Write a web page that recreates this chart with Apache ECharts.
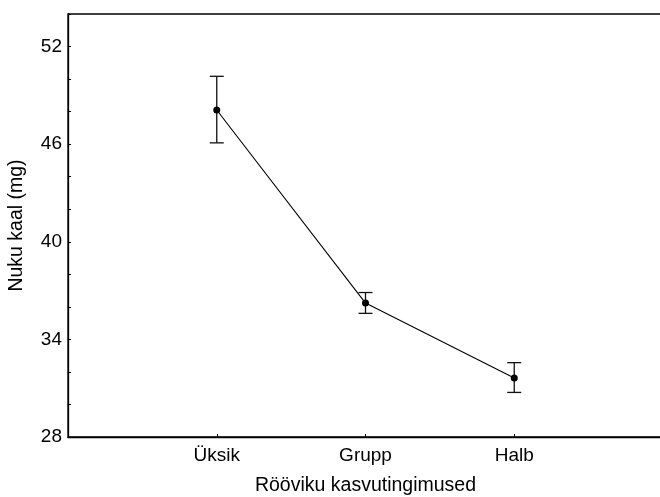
<!DOCTYPE html>
<html>
<head>
<meta charset="utf-8">
<script src="https://cdn.jsdelivr.net/npm/echarts@6/dist/echarts.min.js"></script>
<style>
  html, body { margin: 0; padding: 0; background: #fff; overflow: hidden; }
  #chart { width: 660px; height: 497px; }
</style>
</head>
<body>
<div id="chart"></div>
<script>
// Rearing conditions of the predator and mean prey weight (mg) with error bars
const categories = ['Üksik', 'Grupp', 'Halb'];
const means = [48.1, 36.23, 31.63];
const lower = [46.08, 35.6, 30.74];
const upper = [50.17, 36.88, 32.57];

const yTicks = [28, 34, 40, 46, 52];

const FONT = '"Liberation Sans", Arial, sans-serif';
const FS = 19;

const chart = echarts.init(document.getElementById('chart'), null, { renderer: 'canvas' });

const pointData = categories.map((c, i) => [i + 1, means[i]]);
const errData = categories.map((c, i) => [i + 1, lower[i], upper[i]]);

chart.setOption({
  animation: false,
  backgroundColor: '#fff',
  grid: {
    left: 68, top: 14, width: 595, height: 423,
    outerBoundsMode: 'none',
    containLabel: false,
    show: true, borderColor: '#000', borderWidth: 1.3, backgroundColor: 'transparent'
  },
  xAxis: {
    type: 'value',
    min: 0, max: 4, interval: 1,
    name: 'Rööviku kasvutingimused',
    nameLocation: 'middle',
    nameGap: 39,
    nameTextStyle: { fontFamily: FONT, fontSize: 19.5, color: '#000' },
    axisLine: { show: true, onZero: false, lineStyle: { color: '#000', width: 1.3 } },
    axisTick: { show: true, inside: true, length: 3, lineStyle: { color: '#000', width: 1 } },
    axisLabel: {
      fontFamily: FONT, fontSize: FS, color: '#000', margin: 9,
      formatter: v => categories[v - 1] || ''
    },
    splitLine: { show: false }
  },
  yAxis: {
    type: 'value',
    min: 28, max: 54, interval: 6,
    name: 'Nuku kaal (mg)',
    nameLocation: 'middle',
    nameGap: 41,
    nameTextStyle: { fontFamily: FONT, fontSize: 19.5, color: '#000' },
    axisLine: { show: true, lineStyle: { color: '#000', width: 1.3 } },
    axisTick: { show: true, inside: true, length: 3, lineStyle: { color: '#000', width: 1 } },
    minorTick: { show: true, splitNumber: 3, length: 3, lineStyle: { color: '#000', width: 1 } },
    axisLabel: {
      fontFamily: FONT, fontSize: FS, color: '#000', margin: 6,
      formatter: v => (yTicks.indexOf(v) >= 0 ? String(v) : '')
    },
    splitLine: { show: false }
  },
  series: [
    {
      type: 'custom',
      data: errData,
      z: 2,
      renderItem: function (params, api) {
        const x = api.value(0);
        const lo = api.coord([x, api.value(1)]);
        const hi = api.coord([x, api.value(2)]);
        const cap = 7;
        const style = { stroke: '#111', lineWidth: 1.3 };
        return {
          type: 'group',
          children: [
            { type: 'line', shape: { x1: lo[0], y1: lo[1], x2: hi[0], y2: hi[1] }, style },
            { type: 'line', shape: { x1: lo[0] - cap, y1: lo[1], x2: lo[0] + cap, y2: lo[1] }, style },
            { type: 'line', shape: { x1: hi[0] - cap, y1: hi[1], x2: hi[0] + cap, y2: hi[1] }, style }
          ]
        };
      }
    },
    {
      type: 'line',
      data: pointData,
      z: 3,
      symbol: 'circle',
      symbolSize: 7,
      lineStyle: { color: '#000', width: 1.1 },
      itemStyle: { color: '#000' }
    }
  ]
});
</script>
</body>
</html>
